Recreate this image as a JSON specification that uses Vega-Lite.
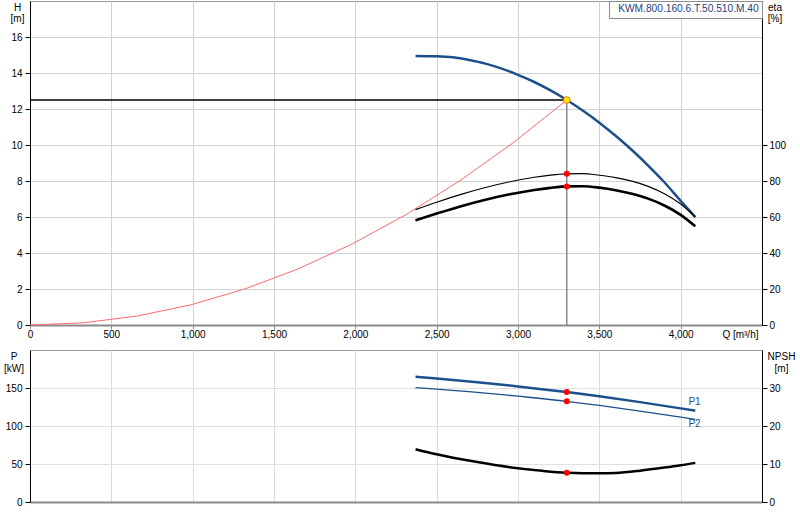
{
  "$schema": "https://vega.github.io/schema/vega-lite/v6.json",
  "padding": {"left": 3, "top": 0, "right": 0, "bottom": 0},
  "datasets": {
    "head": [
      {"Q": 2370, "H": 14.95}, {"Q": 2500, "H": 14.93}, {"Q": 2600, "H": 14.87},
      {"Q": 2700, "H": 14.72}, {"Q": 2800, "H": 14.52}, {"Q": 2900, "H": 14.24},
      {"Q": 3000, "H": 13.9}, {"Q": 3100, "H": 13.5}, {"Q": 3200, "H": 13.03},
      {"Q": 3300, "H": 12.5}, {"Q": 3400, "H": 11.9}, {"Q": 3500, "H": 11.24},
      {"Q": 3600, "H": 10.51}, {"Q": 3700, "H": 9.72}, {"Q": 3800, "H": 8.86},
      {"Q": 3900, "H": 7.93}, {"Q": 4000, "H": 6.9}, {"Q": 4090, "H": 6.0}
    ],
    "system": [
      {"Q": 0, "H": 0}, {"Q": 330, "H": 0.125}, {"Q": 660, "H": 0.5},
      {"Q": 990, "H": 1.125}, {"Q": 1320, "H": 2.0}, {"Q": 1650, "H": 3.125},
      {"Q": 1980, "H": 4.5}, {"Q": 2310, "H": 6.125}, {"Q": 2640, "H": 8.0},
      {"Q": 2970, "H": 10.125}, {"Q": 3300, "H": 12.5}
    ],
    "dutyH": [{"Q": 0, "H": 12.5}, {"Q": 3300, "H": 12.5}],
    "dutyV": [{"Q": 3300, "H": 0}, {"Q": 3300, "H": 12.5}],
    "eff": [
      {"curve": "eta1", "Q": 2370, "eta": 64.1}, {"curve": "eta1", "Q": 2500, "eta": 68.2},
      {"curve": "eta1", "Q": 2650, "eta": 72.6}, {"curve": "eta1", "Q": 2800, "eta": 76.4},
      {"curve": "eta1", "Q": 2950, "eta": 79.6}, {"curve": "eta1", "Q": 3100, "eta": 82.1},
      {"curve": "eta1", "Q": 3200, "eta": 83.3}, {"curve": "eta1", "Q": 3300, "eta": 84.0},
      {"curve": "eta1", "Q": 3400, "eta": 84.1}, {"curve": "eta1", "Q": 3500, "eta": 83.2},
      {"curve": "eta1", "Q": 3600, "eta": 81.9}, {"curve": "eta1", "Q": 3700, "eta": 79.9},
      {"curve": "eta1", "Q": 3800, "eta": 77.0}, {"curve": "eta1", "Q": 3900, "eta": 72.9},
      {"curve": "eta1", "Q": 4000, "eta": 67.2}, {"curve": "eta1", "Q": 4090, "eta": 60.0},
      {"curve": "eta2", "Q": 2370, "eta": 58.1}, {"curve": "eta2", "Q": 2500, "eta": 61.9},
      {"curve": "eta2", "Q": 2650, "eta": 66.0}, {"curve": "eta2", "Q": 2800, "eta": 69.6},
      {"curve": "eta2", "Q": 2950, "eta": 72.6}, {"curve": "eta2", "Q": 3100, "eta": 75.0},
      {"curve": "eta2", "Q": 3200, "eta": 76.2}, {"curve": "eta2", "Q": 3300, "eta": 77.0},
      {"curve": "eta2", "Q": 3400, "eta": 77.1}, {"curve": "eta2", "Q": 3500, "eta": 76.3},
      {"curve": "eta2", "Q": 3600, "eta": 74.9}, {"curve": "eta2", "Q": 3700, "eta": 72.9},
      {"curve": "eta2", "Q": 3800, "eta": 70.2}, {"curve": "eta2", "Q": 3900, "eta": 66.4},
      {"curve": "eta2", "Q": 4000, "eta": 61.2}, {"curve": "eta2", "Q": 4090, "eta": 54.8}
    ],
    "power": [
      {"series": "P1", "Q": 2370, "P": 164.9}, {"series": "P1", "Q": 2500, "P": 162.6},
      {"series": "P1", "Q": 2750, "P": 157.7}, {"series": "P1", "Q": 3000, "P": 152.1},
      {"series": "P1", "Q": 3300, "P": 144.7}, {"series": "P1", "Q": 3500, "P": 139.0},
      {"series": "P1", "Q": 3750, "P": 131.4}, {"series": "P1", "Q": 4000, "P": 123.2},
      {"series": "P1", "Q": 4090, "P": 120.1},
      {"series": "P2", "Q": 2370, "P": 150.4}, {"series": "P2", "Q": 2500, "P": 148.6},
      {"series": "P2", "Q": 2750, "P": 144.3}, {"series": "P2", "Q": 3000, "P": 139.2},
      {"series": "P2", "Q": 3300, "P": 132.5}, {"series": "P2", "Q": 3500, "P": 127.0},
      {"series": "P2", "Q": 3750, "P": 119.7}, {"series": "P2", "Q": 4000, "P": 111.8},
      {"series": "P2", "Q": 4090, "P": 108.8}
    ],
    "npsh": [
      {"Q": 2370, "NPSH": 13.9}, {"Q": 2500, "NPSH": 12.55}, {"Q": 2750, "NPSH": 10.5},
      {"Q": 3000, "NPSH": 8.87}, {"Q": 3150, "NPSH": 8.2}, {"Q": 3300, "NPSH": 7.7},
      {"Q": 3400, "NPSH": 7.57}, {"Q": 3500, "NPSH": 7.55}, {"Q": 3600, "NPSH": 7.65},
      {"Q": 3750, "NPSH": 8.24}, {"Q": 3900, "NPSH": 9.05}, {"Q": 4000, "NPSH": 9.66},
      {"Q": 4090, "NPSH": 10.3}
    ],
    "duty": [{"Q": 3300, "H": 12.5}],
    "dutyEta": [{"Q": 3300, "eta": 84.0}, {"Q": 3300, "eta": 77.0}],
    "dutyP": [{"Q": 3300, "P": 144.7}, {"Q": 3300, "P": 132.5}],
    "dutyN": [{"Q": 3300, "NPSH": 7.7}],
    "plabels": [{"series": "P1", "Q": 4085, "P": 132.0}, {"series": "P2", "Q": 4085, "P": 102.6}]
  },
  "bounds": "flush",
  "spacing": 25,
  "vconcat": [
    {
      "width": 732,
      "height": 324,
      "layer": [
        {
          "layer": [
            {
              "data": {"name": "system"},
              "mark": {"type": "line", "color": "#ff6b6b", "strokeWidth": 1},
              "encoding": {
                "x": {
                  "field": "Q", "type": "quantitative",
                  "scale": {"domain": [0, 4500], "nice": false},
                  "axis": {
                    "values": [0, 500, 1000, 1500, 2000, 2500, 3000, 3500, 4000],
                    "format": ",d", "grid": true, "gridColor": "#cfd2d6",
                    "domainColor": "#8a8a8a", "domainWidth": 2,
                    "tickColor": "#8a8a8a", "tickSize": 4, "labelPadding": 5,
                    "labelBaseline": "middle",
                    "title": "Q [m³/h]", "titleAlign": "right", "titleBaseline": "middle",
                    "titleX": 728, "titleY": 9, "titleAngle": 0
                  }
                },
                "y": {
                  "field": "H", "type": "quantitative",
                  "scale": {"domain": [0, 18], "nice": false},
                  "axis": {
                    "values": [0, 2, 4, 6, 8, 10, 12, 14, 16],
                    "grid": true, "gridColor": "#cfd2d6",
                    "title": ["H", "[m]"], "titleAngle": 0, "titleAlign": "center",
                    "titleBaseline": "top", "titleX": -13, "titleY": 1, "titleLineHeight": 11.5
                  }
                }
              }
            },
            {
              "data": {"name": "dutyH"},
              "mark": {"type": "line", "color": "#000000", "strokeWidth": 1.3},
              "encoding": {
                "x": {"field": "Q", "type": "quantitative"},
                "y": {"field": "H", "type": "quantitative"}
              }
            },
            {
              "data": {"name": "dutyV"},
              "mark": {"type": "line", "color": "#6e6e6e", "strokeWidth": 1.2},
              "encoding": {
                "x": {"field": "Q", "type": "quantitative"},
                "y": {"field": "H", "type": "quantitative"}
              }
            },
            {
              "data": {"name": "head"},
              "mark": {"type": "line", "strokeWidth": 2.5, "interpolate": "monotone"},
              "encoding": {
                "x": {"field": "Q", "type": "quantitative"},
                "y": {"field": "H", "type": "quantitative"},
                "color": {
                  "datum": "KWM.800.160.6.T.50.510.M.40",
                  "scale": {"range": ["#1d4f8c"]},
                  "legend": {
                    "orient": "top-right", "offset": 0, "title": null,
                    "symbolSize": 0, "symbolStrokeWidth": 0, "symbolOpacity": 0,
                    "labelOffset": -4, "padding": 3, "rowPadding": 0,
                    "strokeColor": "#8a8a8a", "fillColor": "#ffffff",
                    "labelFont": "Liberation Sans", "labelFontSize": 10.2,
                    "labelColor": "#1f3f7f", "labelLimit": 300
                  }
                }
              }
            },
            {
              "data": {"name": "duty"},
              "mark": {"type": "point", "filled": true, "fill": "#ffee00", "stroke": "#ff6a00", "strokeWidth": 1, "size": 45, "shape": "circle", "opacity": 1},
              "encoding": {
                "x": {"field": "Q", "type": "quantitative"},
                "y": {"field": "H", "type": "quantitative"}
              }
            }
          ]
        },
        {
          "layer": [
            {
              "data": {"name": "eff"},
              "transform": [{"filter": "datum.curve === 'eta1'"}],
              "mark": {"type": "line", "color": "#000000", "strokeWidth": 1.2, "interpolate": "monotone"},
              "encoding": {
                "x": {"field": "Q", "type": "quantitative"},
                "y": {
                  "field": "eta", "type": "quantitative",
                  "scale": {"domain": [0, 180], "nice": false},
                  "axis": {
                    "orient": "right", "values": [0, 20, 40, 60, 80, 100], "grid": false,
                    "labelPadding": 2,
                    "title": ["eta", "[%]"], "titleAngle": 0, "titleAlign": "center",
                    "titleBaseline": "top", "titleX": 12.5, "titleY": 1, "titleLineHeight": 11.5
                  }
                }
              }
            },
            {
              "data": {"name": "eff"},
              "transform": [{"filter": "datum.curve === 'eta2'"}],
              "mark": {"type": "line", "color": "#000000", "strokeWidth": 2.6, "interpolate": "monotone"},
              "encoding": {
                "x": {"field": "Q", "type": "quantitative"},
                "y": {"field": "eta", "type": "quantitative"}
              }
            },
            {
              "data": {"name": "dutyEta"},
              "mark": {"type": "point", "filled": true, "color": "#ff0000", "size": 36, "shape": "circle", "opacity": 1},
              "encoding": {
                "x": {"field": "Q", "type": "quantitative"},
                "y": {"field": "eta", "type": "quantitative"}
              }
            }
          ]
        }
      ],
      "resolve": {"scale": {"y": "independent"}}
    },
    {
      "width": 732,
      "height": 152,
      "layer": [
        {
          "layer": [
            {
              "data": {"name": "power"},
              "transform": [{"filter": "datum.series === 'P1'"}],
              "mark": {"type": "line", "color": "#1d4f8c", "strokeWidth": 2.5, "interpolate": "monotone"},
              "encoding": {
                "x": {
                  "field": "Q", "type": "quantitative",
                  "scale": {"domain": [0, 4500], "nice": false},
                  "axis": {
                    "values": [0, 500, 1000, 1500, 2000, 2500, 3000, 3500, 4000],
                    "labels": false, "ticks": false, "title": null,
                    "grid": true, "gridColor": "#dadada",
                    "domainColor": "#8a8a8a", "domainWidth": 2
                  }
                },
                "y": {
                  "field": "P", "type": "quantitative",
                  "scale": {"domain": [0, 200], "nice": false},
                  "axis": {
                    "values": [0, 50, 100, 150], "grid": true, "gridColor": "#e0e0e0",
                    "title": ["P", "[kW]"], "titleAngle": 0, "titleAlign": "center",
                    "titleBaseline": "top", "titleX": -16.5, "titleY": 1.5, "titleLineHeight": 11.5
                  }
                }
              }
            },
            {
              "data": {"name": "power"},
              "transform": [{"filter": "datum.series === 'P2'"}],
              "mark": {"type": "line", "color": "#1d4f8c", "strokeWidth": 1.3, "interpolate": "monotone"},
              "encoding": {
                "x": {"field": "Q", "type": "quantitative"},
                "y": {"field": "P", "type": "quantitative"}
              }
            },
            {
              "data": {"name": "dutyP"},
              "mark": {"type": "point", "filled": true, "color": "#ff0000", "size": 36, "shape": "circle", "opacity": 1},
              "encoding": {
                "x": {"field": "Q", "type": "quantitative"},
                "y": {"field": "P", "type": "quantitative"}
              }
            },
            {
              "data": {"name": "plabels"},
              "mark": {"type": "text", "align": "center", "baseline": "middle", "fontSize": 10, "font": "Liberation Sans", "color": "#1d4f8c"},
              "encoding": {
                "x": {"field": "Q", "type": "quantitative"},
                "y": {"field": "P", "type": "quantitative"},
                "text": {"field": "series", "type": "nominal"}
              }
            }
          ]
        },
        {
          "layer": [
            {
              "data": {"name": "npsh"},
              "mark": {"type": "line", "color": "#000000", "strokeWidth": 2.5, "interpolate": "monotone"},
              "encoding": {
                "x": {"field": "Q", "type": "quantitative"},
                "y": {
                  "field": "NPSH", "type": "quantitative",
                  "scale": {"domain": [0, 40], "nice": false},
                  "axis": {
                    "orient": "right", "values": [0, 10, 20, 30], "grid": false,
                    "labelPadding": 2,
                    "title": ["NPSH", "[m]"], "titleAngle": 0, "titleAlign": "center",
                    "titleBaseline": "top", "titleX": 19, "titleY": 1.5, "titleLineHeight": 11.5
                  }
                }
              }
            },
            {
              "data": {"name": "dutyN"},
              "mark": {"type": "point", "filled": true, "color": "#ff0000", "size": 36, "shape": "circle", "opacity": 1},
              "encoding": {
                "x": {"field": "Q", "type": "quantitative"},
                "y": {"field": "NPSH", "type": "quantitative"}
              }
            }
          ]
        }
      ],
      "resolve": {"scale": {"y": "independent"}}
    }
  ],
  "config": {
    "view": {"stroke": "#9a9a9a"},
    "axis": {
      "labelFont": "Liberation Sans", "labelFontSize": 10, "labelColor": "#000000", "labelFlush": false,
      "titleFont": "Liberation Sans", "titleFontSize": 10, "titleFontWeight": "normal", "titleColor": "#000000",
      "domainColor": "#000000", "tickColor": "#000000", "tickSize": 5, "labelPadding": 3, "gridWidth": 1
    }
  }
}
